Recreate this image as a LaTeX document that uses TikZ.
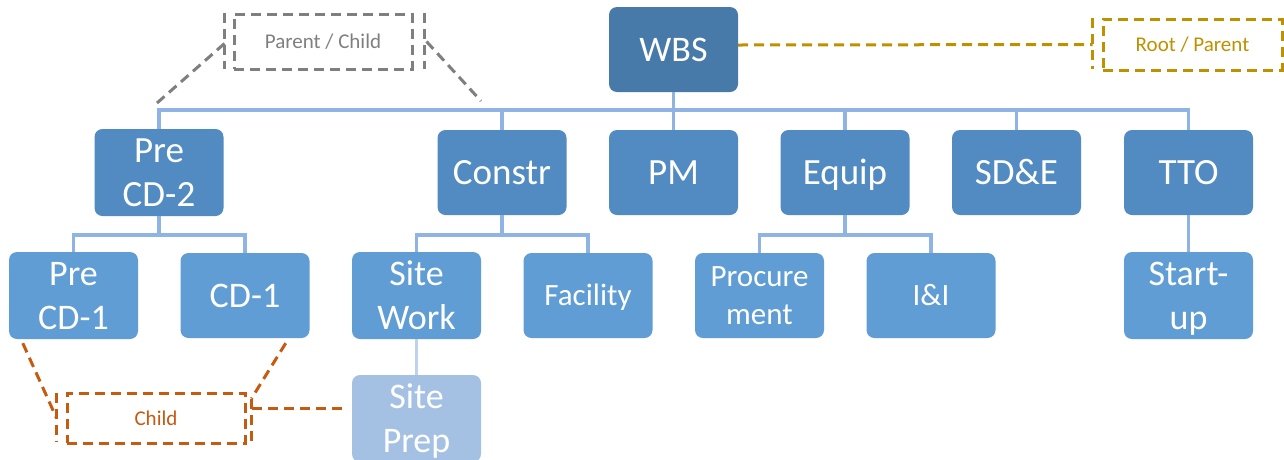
\documentclass[tikz,border=0pt]{standalone}
\usepackage{fontspec}
\setmainfont{Carlito}
\definecolor{rootblue}{HTML}{4779A9}
\definecolor{lvtwo}{HTML}{528BC1}
\definecolor{lvthree}{HTML}{5F9DD4}
\definecolor{lvfour}{HTML}{A4C1E4}
\definecolor{linkblue}{HTML}{8FB4E3}
\definecolor{linklight}{HTML}{BCD2EE}
\definecolor{tagGray}{HTML}{7F7F7F}
\definecolor{tagGold}{HTML}{BF9000}
\definecolor{tagOrange}{HTML}{C55A11}
% invisible struts that fix each line's height and depth
\newcommand\lnA{\rule[-10pt]{0pt}{43pt}}
\newcommand\lnB{\rule[-9pt]{0pt}{37pt}}
\tikzset{
  box/.style={rounded corners=8pt, minimum width=129pt, minimum height=85pt,
    inner sep=0pt, text=white, align=center},
  rootbox/.style={box, fill=rootblue, font=\fontsize{36}{40}\selectfont},
  twobox/.style={box, fill=lvtwo, font=\fontsize{37}{40}\selectfont},
  threebox/.style={box, fill=lvthree, font=\fontsize{36}{40}\selectfont},
  threesmall/.style={box, fill=lvthree, font=\fontsize{31}{35}\selectfont},
  fourbox/.style={box, fill=lvfour, font=\fontsize{36}{42}\selectfont},
  link/.style={draw=linkblue, line width=3.2pt},
  linklt/.style={draw=linklight, line width=3.2pt},
  dsh/.style={draw=#1, line width=3pt, dash pattern=on 10pt off 6pt},
  tag/.style={dsh=#1, text=#1, inner sep=0pt, font=\fontsize{21}{24}\selectfont}
}
\begin{document}
\begin{tikzpicture}[x=1pt, y=-1pt]
\useasboundingbox (0,0) rectangle (1284,459);

% hierarchy boxes
\node[rootbox] (wbs) at (673.5,49.5) {\lnA WBS};

\node[twobox] (pcd2)   at (159,172.5)   {\lnA Pre\\\lnA CD-2};
\node[twobox] (constr) at (502,172.5)   {\lnA Constr};
\node[twobox] (pm)     at (673.5,172.5) {\lnA PM};
\node[twobox] (equip)  at (845,172.5)   {\lnA Equip};
\node[twobox] (sde)    at (1016.5,172.5){\lnA SD\&E};
\node[twobox] (tto)    at (1188.5,172.5){\lnA TTO};

\node[threebox]   (pcd1)     at (73.5,295.5)  {\lnA Pre\\\lnA CD-1};
\node[threebox]   (cd1)      at (245,295.5)   {\lnA CD-1};
\node[threebox]   (sitework) at (416.5,295.5) {\lnA Site\\\lnA Work};
\node[threesmall] (facility) at (588,295.5)   {\lnB Facility};
\node[threesmall] (procure)  at (759.5,295.5) {\lnB Procure\\\lnB ment};
\node[threesmall] (ii)       at (931,295.5)   {\lnB I\&I};
\node[threebox]   (startup)  at (1188.5,295.5){\lnA Start-\\\lnA up};

\node[fourbox] (siteprep) at (416.5,418.5) {\lnA Site\\\lnA Prep};

% tree connectors
\coordinate (busA) at (673.5,110);
\draw[link] (wbs.south) -- (busA);
\draw[link] (pcd2.north) |- (busA) -| (tto.north);
\foreach \n in {constr,pm,equip,sde}
  \draw[link] (\n.north) -- (\n.north |- busA);

\coordinate (busB) at (159,235);
\draw[link] (pcd2.south) -- (busB);
\draw[link] (pcd1.north) |- (busB) -| (cd1.north);

\coordinate (busC) at (502,235);
\draw[link] (constr.south) -- (busC);
\draw[link] (sitework.north) |- (busC) -| (facility.north);

\coordinate (busD) at (845,235);
\draw[link] (equip.south) -- (busD);
\draw[link] (procure.north) |- (busD) -| (ii.north);

\draw[link] (tto.south) -- (startup.north);
\draw[linklt] (sitework.south) -- (siteprep.north);

% role tags
\node[tag=tagGray, minimum width=178pt, minimum height=55pt] (pc) at (323,41.5) {Parent / Child};
\draw[dsh=tagGray] ([xshift=-8pt]pc.north west) -- ([xshift=-8pt,yshift=2pt]pc.south west);
\draw[dsh=tagGray] ([xshift=11pt]pc.north east) -- ([xshift=11pt,yshift=2pt]pc.south east);
\coordinate (pcL) at (157,103);
\coordinate (pcR) at (481,101);
\draw[dsh=tagGray] ([xshift=-8pt,yshift=-2pt]pc.west) -- (pcL);
\draw[dsh=tagGray] ([xshift=13pt]pc.east) -- (pcR);

\node[tag=tagGold, minimum width=179pt, minimum height=51pt] (rp) at (1192.5,44.5) {Root / Parent};
\draw[dsh=tagGold] ([xshift=-9pt]rp.north west) -- ([xshift=-9pt,yshift=3pt]rp.south west);
\draw[dsh=tagGold] ([yshift=4.5pt]wbs.east) -- ([xshift=-9pt]rp.west);

\node[tag=tagOrange, minimum width=178pt, minimum height=50pt] (ch) at (156,418) {Child};
\draw[dsh=tagOrange] ([xshift=-9pt,yshift=-1pt]ch.north west) -- ([xshift=-9pt,yshift=3pt]ch.south west);
\draw[dsh=tagOrange] ([xshift=5pt,yshift=-7pt]ch.north east) -- ([xshift=5pt]ch.south east);
\draw[dsh=tagOrange] ([xshift=14pt,yshift=-4pt]pcd1.south west) -- ([xshift=-9pt]ch.west);
\draw[dsh=tagOrange] ([xshift=-24pt,yshift=-5pt]cd1.south east) -- ([xshift=5pt,yshift=-7pt]ch.north east);
\draw[dsh=tagOrange] ([xshift=5pt,yshift=10pt]ch.east) -- ([xshift=-5pt,yshift=10.5pt]siteprep.west);
\end{tikzpicture}
\end{document}
